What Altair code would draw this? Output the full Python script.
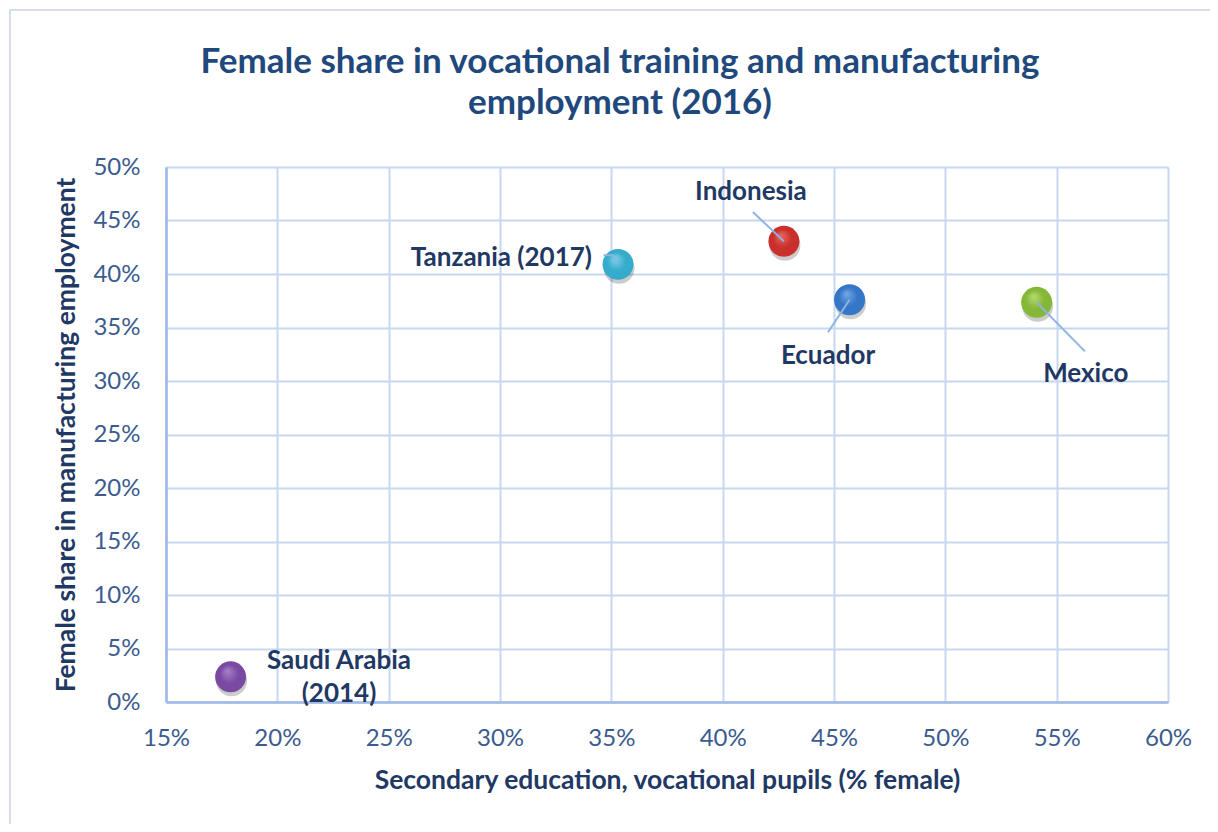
import altair as alt
import pandas as pd

# ---- data ----
countries = ["Saudi Arabia (2014)", "Tanzania (2017)", "Indonesia", "Ecuador", "Mexico"]
x_vals = [17.9, 35.3, 42.75, 45.7, 54.1]   # Secondary education, vocational pupils (% female)
y_vals = [2.35, 40.9, 43.05, 37.6, 37.35]   # Female share in manufacturing employment (%)
base_colors = ["#7A4AA3", "#35ACCC", "#C9302C", "#3576C6", "#86B838"]
light_colors = ["#A682C8", "#7FD3EA", "#E86A63", "#76A7E6", "#B7DB73"]

# annotation labels (alphabetic baseline)
label_text = ["Saudi Arabia", "(2014)", "Tanzania (2017)", "Indonesia", "Ecuador", "Mexico"]
label_x = [22.77, 22.77, 34.13, 41.27, 44.73, 56.31]
label_y = [3.1, 0.0, 40.73, 46.9, 31.55, 29.87]
label_align = ["center", "center", "right", "center", "center", "center"]

# leader lines (vertices, ending at the point)
leader_id = ["Tanzania", "Tanzania", "Tanzania", "Indonesia", "Indonesia",
             "Ecuador", "Ecuador", "Mexico", "Mexico"]
leader_order = [0, 1, 2, 0, 1, 0, 1, 0, 1]
leader_x = [34.65, 35.07, 35.3, 41.36, 42.75, 44.73, 45.7, 56.27, 54.1]
leader_y = [41.76, 41.76, 40.9, 45.79, 43.05, 34.55, 37.6, 32.77, 37.35]

x_ticks = [15, 20, 25, 30, 35, 40, 45, 50, 55, 60]
y_ticks = [0, 5, 10, 15, 20, 25, 30, 35, 40, 45, 50]

NAVY = "#1F3864"
TITLE_C = "#1F497D"
TICK = "#3B5B8F"
GRID = "#C6D7EF"
FONT = "Lato"

pts = pd.DataFrame({"country": countries, "x": x_vals, "y": y_vals})
labels = pd.DataFrame({"t": label_text, "x": label_x, "y": label_y, "a": label_align})
leaders = pd.DataFrame({"id": leader_id, "o": leader_order, "x": leader_x, "y": leader_y})

xs = alt.Scale(domain=[15, 60], nice=False)
ys = alt.Scale(domain=[0, 50], nice=False)

X = alt.X("x:Q", scale=xs, axis=alt.Axis(
    values=x_ticks, labelExpr="datum.value + '%'",
    title="Secondary education, vocational pupils (% female)"))
Y = alt.Y("y:Q", scale=ys, axis=alt.Axis(
    values=y_ticks, labelExpr="datum.value + '%'",
    title="Female share in manufacturing employment"))

frame = alt.Chart(alt.Data(values=[{"a": 1}])).mark_rect(
    fill=None, stroke="#D5DEEA", strokeWidth=2
).encode(x=alt.value(-156), x2=alt.value(1070), y=alt.value(-157), y2=alt.value(720))

shadow = alt.Chart(pts).mark_circle(size=960, color="#000000", opacity=0.2, yOffset=4, xOffset=1).encode(x=X, y=Y)

ball_layers = []
for i, c in enumerate(countries):
    grad = {
        "gradient": "radial",
        "x1": 0.4, "y1": 0.3, "r1": 0.0,
        "x2": 0.5, "y2": 0.5, "r2": 0.55,
        "stops": [
            {"offset": 0.0, "color": light_colors[i]},
            {"offset": 0.55, "color": base_colors[i]},
            {"offset": 1.0, "color": base_colors[i]},
        ],
    }
    ball_layers.append(
        alt.Chart(pts).transform_filter(alt.datum.country == c)
        .mark_circle(size=960, opacity=1, fill=grad, strokeWidth=0).encode(x=X, y=Y)
    )

leader = alt.Chart(leaders).mark_line(color="#8DB4E2", strokeWidth=2).encode(
    x=X, y=Y, detail="id:N", order="o:Q")

text_layers = []
for al in ["center", "right"]:
    text_layers.append(
        alt.Chart(labels).transform_filter(alt.datum.a == al).mark_text(
            align=al, baseline="alphabetic", font=FONT, fontSize=26, fontWeight="bold", color=NAVY
        ).encode(x=X, y=Y, text="t:N")
    )

chart = alt.layer(frame, shadow, *ball_layers, leader, *text_layers).properties(
    width=1002, height=535,
    title=alt.TitleParams(
        text=["Female share in vocational training and manufacturing", "employment (2016)"],
        font=FONT, fontSize=35, fontWeight="bold", color=TITLE_C, lineHeight=41,
        anchor="middle", dx=-47, offset=-140, baseline="alphabetic",
    ),
    autosize=alt.AutoSizeParams(type="none"),
    padding={"left": 158, "top": 159, "right": 42, "bottom": 122},
    background="white",
).configure_view(stroke=None).configure_axis(
    grid=True, gridColor=GRID, gridWidth=2, domainColor="#9DB9E4", domainWidth=2.5,
    ticks=False, labelFlush=False, labelFont=FONT, labelFontSize=24, labelColor=TICK,
    titleFont=FONT, titleFontSize=26.5, titleFontWeight="bold", titleColor=NAVY,
).configure_axisX(labelPadding=24, titlePadding=17).configure_axisY(
    labelPadding=26, titlePadding=12
)

chart.save("out.html", embed_options={"renderer": "svg", "actions": False})
